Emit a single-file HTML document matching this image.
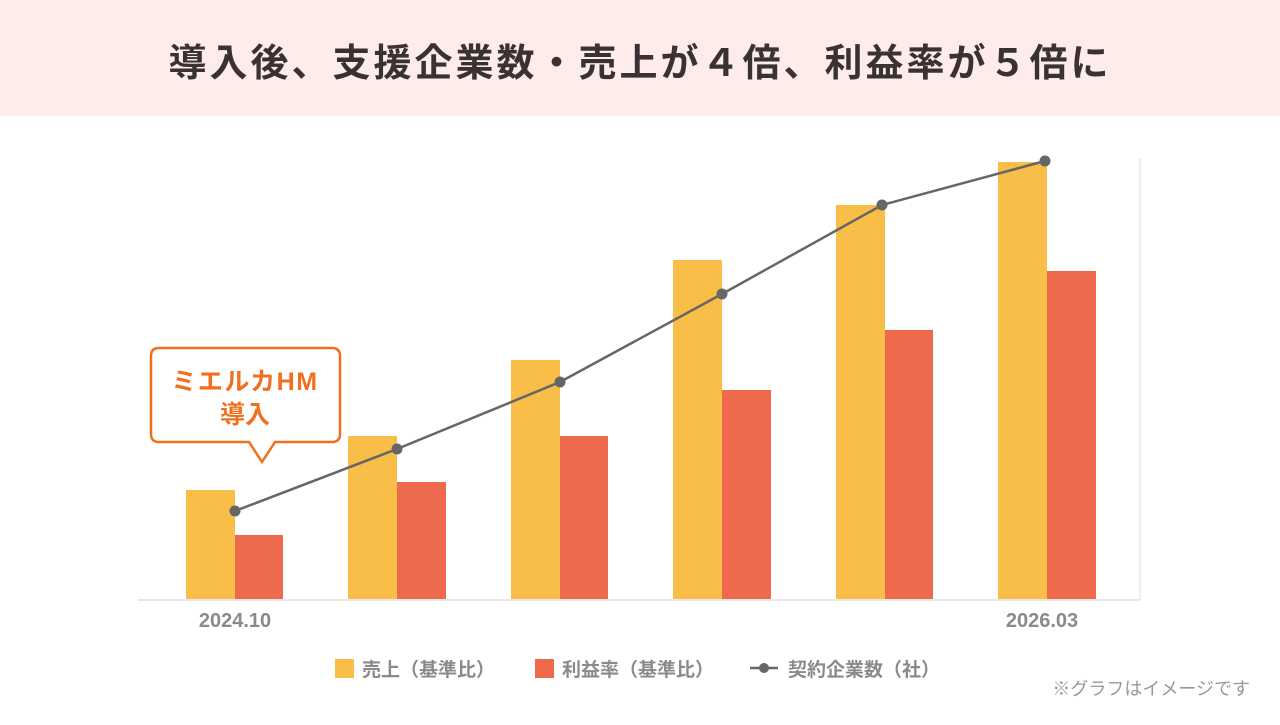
<!DOCTYPE html>
<html><head><meta charset="utf-8"><style>
body{margin:0;width:1280px;height:720px;background:#fff;overflow:hidden;font-family:"Liberation Sans","Noto Sans CJK JP",sans-serif;}
</style></head><body>
<svg width="1280" height="720" viewBox="0 0 1280 720" xmlns="http://www.w3.org/2000/svg" font-family="Liberation Sans, Noto Sans CJK JP, sans-serif">
<rect x="0" y="0" width="1280" height="116" fill="#fdecea"/>
<text x="640" y="76" text-anchor="middle" font-size="38" font-weight="bold" letter-spacing="3" fill="#3a3232">導入後、支援企業数・売上が４倍、利益率が５倍に</text>
<line x1="1140" y1="158" x2="1140" y2="600" stroke="#eeeeee" stroke-width="2"/>
<g fill="#f8be48">
<rect x="186" y="490" width="49" height="110"/>
<rect x="348" y="436" width="49" height="164"/>
<rect x="511" y="360" width="49" height="240"/>
<rect x="673" y="260" width="49" height="340"/>
<rect x="836" y="205" width="49" height="395"/>
<rect x="998" y="162" width="49" height="438"/>
</g>
<g fill="#ef6a4c">
<rect x="235" y="535" width="48" height="65"/>
<rect x="397" y="482" width="49" height="118"/>
<rect x="560" y="436" width="48" height="164"/>
<rect x="722" y="390" width="49" height="210"/>
<rect x="885" y="330" width="48" height="270"/>
<rect x="1047" y="271" width="49" height="329"/>
</g>
<line x1="138" y1="600" x2="1140" y2="600" stroke="#e8e8e8" stroke-width="2"/>
<polyline points="235,511 397,449 560,382 722,294 882,205 1045,161" fill="none" stroke="#666" stroke-width="2.5"/>
<g fill="#666">
<circle cx="235" cy="511" r="5.5"/><circle cx="397" cy="449" r="5.5"/><circle cx="560" cy="382" r="5.5"/>
<circle cx="722" cy="294" r="5.5"/><circle cx="882" cy="205" r="5.5"/><circle cx="1045" cy="161" r="5.5"/>
</g>
<text x="235" y="627" text-anchor="middle" font-size="20" font-weight="bold" fill="#8a8a8a">2024.10</text>
<text x="1042" y="627" text-anchor="middle" font-size="20" font-weight="bold" fill="#8a8a8a">2026.03</text>
<path d="M159,348 H332 Q340,348 340,356 V434 Q340,442 332,442 H275 L262,462 L249,442 H159 Q151,442 151,434 V356 Q151,348 159,348 Z" fill="#fff" stroke="#f07020" stroke-width="2.5"/>
<text x="245" y="390" text-anchor="middle" font-size="25" font-weight="bold" letter-spacing="1.5" fill="#f07020">ミエルカHM</text>
<text x="245" y="423" text-anchor="middle" font-size="25" font-weight="bold" fill="#f07020">導入</text>
<rect x="335" y="659" width="19" height="19" fill="#f8be48"/>
<text x="362" y="676" font-size="19" font-weight="bold" fill="#8a8a8a">売上（基準比）</text>
<rect x="535" y="659" width="19" height="19" fill="#ef6a4c"/>
<text x="562" y="676" font-size="19" font-weight="bold" fill="#8a8a8a">利益率（基準比）</text>
<line x1="750" y1="668" x2="778" y2="668" stroke="#666" stroke-width="2.5"/>
<circle cx="764" cy="668" r="5" fill="#666"/>
<text x="788" y="676" font-size="19" font-weight="bold" fill="#8a8a8a">契約企業数（社）</text>
<text x="1250" y="695" text-anchor="end" font-size="18" fill="#999">※グラフはイメージです</text>
</svg>
</body></html>
